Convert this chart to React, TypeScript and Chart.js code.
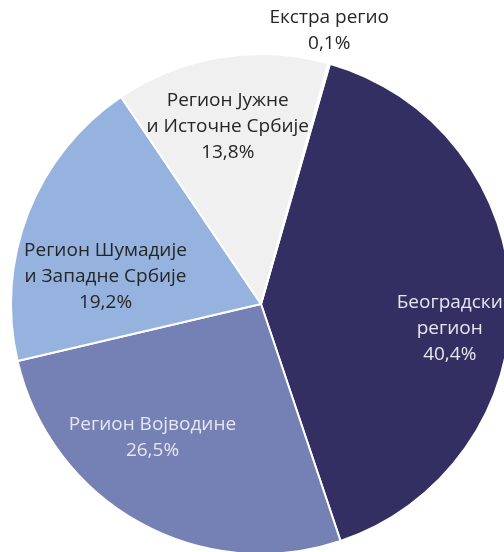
import React, { useEffect, useRef } from "react";
import { Chart, registerables } from "chart.js";

Chart.register(...registerables);

const categories = [
  ["Београдски", "регион"],
  ["Регион Војводине"],
  ["Регион Шумадије", "и Западне Србије"],
  ["Регион Јужне", "и Источне Србије"],
  ["Екстра регио"],
];
const values = [40.4, 26.5, 19.2, 13.8, 0.1];
const valueLabels = ["40,4%", "26,5%", "19,2%", "13,8%", "0,1%"];

const colors = ["#332F63", "#7580B5", "#95B3DE", "#F0F0F0", "#4A5A8F"];
const textColors = ["#E6E6EE", "#E6E6EE", "#262626", "#262626", "#262626"];
// label block centers relative to pie center, in units of the radius
const labelPos = [
  [0.755, 0.1],
  [-0.434, 0.536],
  [-0.622, -0.108],
  [-0.133, -0.711],
  [0.273, -1.092],
];

const labelPlugin = {
  id: "sliceLabels",
  afterDraw(chart: any) {
    const meta = chart.getDatasetMeta(0);
    const arc = meta.data[0];
    if (!arc) return;
    const { x: cx, y: cy, outerRadius: R } = arc.getProps(["x", "y", "outerRadius"], true);
    const ctx = chart.ctx;
    ctx.save();
    ctx.font = '19px "Open Sans", sans-serif';
    ctx.textAlign = "center";
    ctx.textBaseline = "middle";
    const lh = 26;
    categories.forEach((lines, i) => {
      const all = [...lines, valueLabels[i]];
      const x = cx + labelPos[i][0] * R;
      const y = cy + labelPos[i][1] * R;
      const top = y - ((all.length - 1) * lh) / 2;
      ctx.fillStyle = textColors[i];
      all.forEach((t, j) => ctx.fillText(t, x, top + j * lh));
    });
    ctx.restore();
  },
};

export default function App() {
  const ref = useRef<HTMLCanvasElement>(null);
  useEffect(() => {
    if (!ref.current) return;
    const chart = new Chart(ref.current, {
      type: "pie",
      data: {
        labels: categories.map((c) => c.join(" ")),
        datasets: [
          {
            data: values,
            backgroundColor: colors,
            borderColor: "#FFFFFF",
            borderWidth: 2,
          },
        ],
      },
      options: {
        animation: false,
        responsive: false,
        maintainAspectRatio: false,
        rotation: 16,
        layout: { padding: 10 },
        plugins: {
          legend: { display: false },
          tooltip: { enabled: false },
        },
      },
      plugins: [labelPlugin],
    });
    return () => chart.destroy();
  }, []);
  return (
    <div
      style={{
        position: "fixed",
        left: 0,
        top: 0,
        width: 504,
        height: 552,
        overflow: "hidden",
        background: "#fff",
      }}
    >
      <canvas ref={ref} width={522} height={608} style={{ display: "block", width: 522, height: 608 }} />
    </div>
  );
}
